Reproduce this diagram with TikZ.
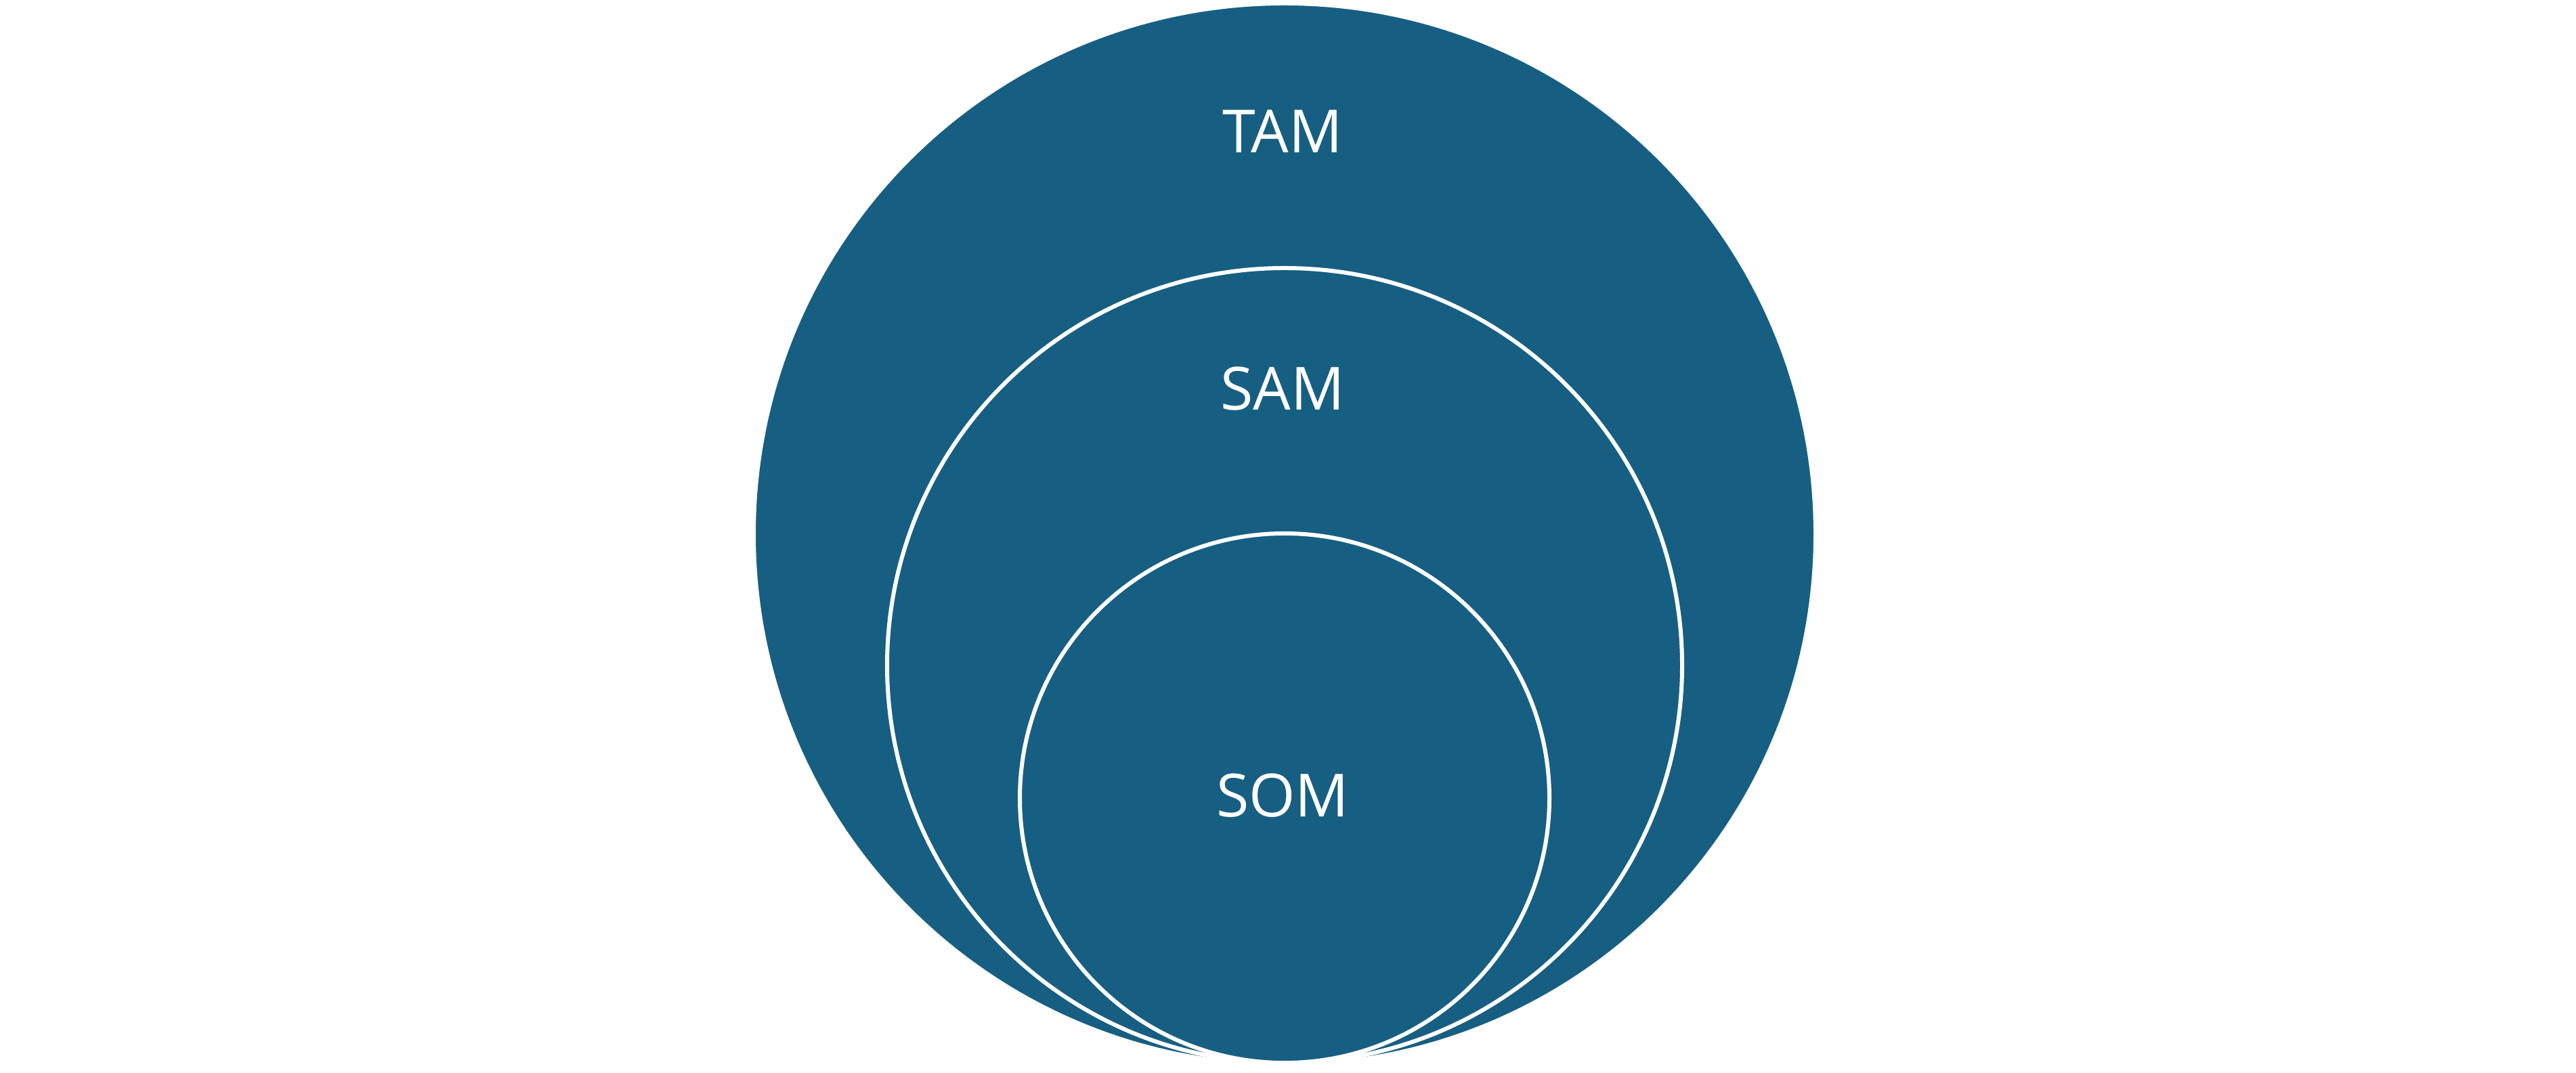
\documentclass[tikz,border=0pt]{standalone}
\usepackage{fontspec}
\setmainfont{Open Sans}
\usepackage{xcolor}
\usepackage{tikz}
\usetikzlibrary{positioning}

\definecolor{marketblue}{RGB}{23,95,130}

\begin{document}
\begin{tikzpicture}[
  font=\fontsize{25}{30}\selectfont,
  market/.style={draw=white, circle, fill=marketblue, line width=0.6mm,
                 inner sep=0pt},
  lbl/.style={text=white, inner sep=0pt}
]
\useasboundingbox[fill=white] (0,0) rectangle (380.4mm,158.5mm);

\node[market, minimum size=156.8mm] (tam) at (189.7mm,79.6mm) {};
\node[market, minimum size=117.4mm] (sam) at (189.7mm,60.2mm) {};
\node[market, minimum size=78.2mm]  (som) at (189.7mm,40.6mm) {};

\node[lbl] (tamlbl) at (189.4mm,139.1mm) {TAM};
\node[lbl] (samlbl) at (189.4mm,101.1mm) {SAM};
\node[lbl] (somlbl) at (189.4mm,41.0mm) {SOM};
\end{tikzpicture}
\end{document}
